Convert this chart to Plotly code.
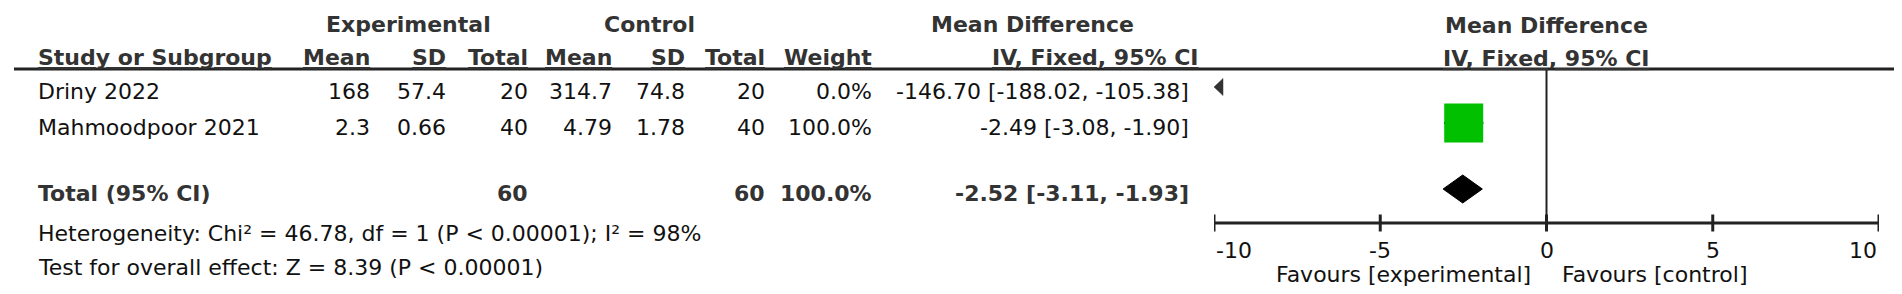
import plotly.graph_objects as go

W, H = 1902, 294

# ---------------- data ----------------
studies = ["Driny 2022", "Mahmoodpoor 2021"]
exp_mean = [168, 2.3]
exp_sd = [57.4, 0.66]
exp_n = [20, 40]
ctl_mean = [314.7, 4.79]
ctl_sd = [74.8, 1.78]
ctl_n = [20, 40]
weights = [0.0, 100.0]
md = [-146.70, -2.49]
ci_lo = [-188.02, -3.08]
ci_hi = [-105.38, -1.90]

total_label = "Total (95% CI)"
total_exp_n = 60
total_ctl_n = 60
total_weight = 100.0
total_md, total_lo, total_hi = -2.52, -3.11, -1.93

heterogeneity = "Heterogeneity: Chi² = 46.78, df = 1 (P < 0.00001); I² = 98%"
overall = "Test for overall effect: Z = 8.39 (P < 0.00001)"

x_ticks = [-10, -5, 0, 5, 10]
x_range = [-10, 10]
fav_left = "Favours [experimental]"
fav_right = "Favours [control]"

# ---------------- layout constants (pixels) ----------------
FONT = "DejaVu Sans"
FS = 22
TXT = "#111111"
HDR = "#333333"
GREEN = "#00c000"

ax_left_px, ax_right_px = 1206, 1871
row_y = [79, 115]          # mark centres of study rows
total_y = 181
hdr1_y, hdr2_y = 13, 46
text_dy = 4
rule_y = 61
axis_y = 215
tick_half = 8.5
het_y, test_y = 221, 255
ticklab_y = 242
fav_y = 266
sq_max = 39
diamond_half = 14

cols = dict(exp_mean=364, exp_sd=440, exp_n=522, ctl_mean=606, ctl_sd=679,
            ctl_n=759, weight=866, ci=1183)
left_x = 28


def px(x):
    return x / W


def py(y):
    return 1 - y / H


fig = go.Figure()

annotations = []


def txt(text, x, y, anchor="right", bold=False, color=TXT, size=FS):
    annotations.append(dict(
        text=f"<b>{text}</b>" if bold else text,
        x=px(x), y=py(y + text_dy), xref="paper", yref="paper",
        xanchor=anchor, yanchor="middle", showarrow=False,
        font=dict(family=FONT, size=size, color=HDR if bold else color)))


# headers
txt("Experimental", 400, hdr1_y, "center", bold=True)
txt("Control", 641, hdr1_y, "center", bold=True)
txt("Mean Difference", 1024, hdr1_y, "center", bold=True)
txt("<u>Study or Subgroup</u>", left_x, hdr2_y, "left", bold=True)
for key, lab in [("exp_mean", "Mean"), ("exp_sd", "SD"), ("exp_n", "Total"),
                 ("ctl_mean", "Mean"), ("ctl_sd", "SD"), ("ctl_n", "Total"),
                 ("weight", "Weight")]:
    txt(f"<u>{lab}</u>", cols[key], hdr2_y, "right", bold=True)
txt("<u>IV, Fixed, 95% CI</u>", 1193, hdr2_y, "right", bold=True)

# study rows
for i, s in enumerate(studies):
    y = row_y[i]
    txt(s, left_x, y, "left")
    txt(f"{exp_mean[i]:g}", cols["exp_mean"], y)
    txt(f"{exp_sd[i]:g}", cols["exp_sd"], y)
    txt(f"{exp_n[i]}", cols["exp_n"], y)
    txt(f"{ctl_mean[i]:g}", cols["ctl_mean"], y)
    txt(f"{ctl_sd[i]:g}", cols["ctl_sd"], y)
    txt(f"{ctl_n[i]}", cols["ctl_n"], y)
    txt(f"{weights[i]:.1f}%", cols["weight"], y)
    txt(f"{md[i]:.2f} [{ci_lo[i]:.2f}, {ci_hi[i]:.2f}]", cols["ci"], y)

# total row
txt(total_label, left_x, total_y, "left", bold=True)
txt(f"{total_exp_n}", cols["exp_n"], total_y, bold=True)
txt(f"{total_ctl_n}", cols["ctl_n"], total_y, bold=True)
txt(f"{total_weight:.1f}%", cols["weight"], total_y, bold=True)
txt(f"{total_md:.2f} [{total_lo:.2f}, {total_hi:.2f}]", cols["ci"], total_y, bold=True)
txt(heterogeneity, left_x, het_y, "left")
txt(overall, left_x, test_y, "left")

# ---------------- forest plot ----------------
xmin, xmax = x_range
unit_px = (ax_right_px - ax_left_px) / (xmax - xmin)
for i in range(len(studies)):
    y = row_y[i]
    lo = max(ci_lo[i], xmin)
    hi = min(ci_hi[i], xmax)
    if lo < hi:
        fig.add_trace(go.Scatter(x=[lo, hi], y=[y, y], mode="lines",
                                 line=dict(color="#000000", width=2),
                                 hoverinfo="skip", showlegend=False))
    if xmin <= md[i] <= xmax and weights[i] > 0:
        size = sq_max * (weights[i] / max(weights)) ** 0.5
        fig.add_trace(go.Scatter(x=[md[i]], y=[y], mode="markers",
                                 marker=dict(symbol="square", size=size, color=GREEN,
                                             line=dict(width=0)),
                                 hoverinfo="skip", showlegend=False))
    if ci_lo[i] < xmin:
        aw = 9 / unit_px
        fig.add_trace(go.Scatter(x=[xmin, xmin + aw, xmin + aw, xmin],
                                 y=[y, y - 8.5, y + 8.5, y], mode="lines",
                                 fill="toself", fillcolor="#333333",
                                 line=dict(color="#333333", width=0.5),
                                 hoverinfo="skip", showlegend=False))

# diamond
fig.add_trace(go.Scatter(
    x=[total_lo, total_md, total_hi, total_md, total_lo],
    y=[total_y, total_y - diamond_half, total_y, total_y + diamond_half, total_y],
    mode="lines", fill="toself", fillcolor="#000000",
    line=dict(color="#000000", width=1), hoverinfo="skip", showlegend=False))

shapes = []
# top rule across the whole table
shapes.append(dict(type="line", xref="paper", yref="y", x0=px(6), x1=px(1894),
                   y0=rule_y, y1=rule_y, line=dict(color="#222222", width=3)))
# zero line
shapes.append(dict(type="line", xref="x", yref="y", x0=0, x1=0,
                   y0=rule_y, y1=axis_y, line=dict(color="#222222", width=2)))
# axis line
shapes.append(dict(type="line", xref="x", yref="y", x0=xmin, x1=xmax,
                   y0=axis_y, y1=axis_y, line=dict(color="#222222", width=3)))
for t in x_ticks:
    shapes.append(dict(type="line", xref="x", yref="y", x0=t, x1=t,
                       y0=axis_y - tick_half, y1=axis_y + tick_half,
                       line=dict(color="#222222", width=3)))
    anchor = "left" if t == xmin else ("right" if t == xmax else "center")
    annotations.append(dict(text=f"{t:g}".replace("-", "-"), x=t, y=ticklab_y,
                            xref="x", yref="y", xanchor=anchor, yanchor="middle",
                            showarrow=False,
                            font=dict(family=FONT, size=FS, color=TXT)))

# right header
annotations.append(dict(text="<b>Mean Difference</b>", x=0, y=hdr1_y + text_dy, xref="x", yref="y",
                        xanchor="center", yanchor="middle", showarrow=False,
                        font=dict(family=FONT, size=FS, color=HDR)))
annotations.append(dict(text="<b><u>IV, Fixed, 95% CI</u></b>", x=0, y=hdr2_y + text_dy,
                        xref="x", yref="y", xanchor="center", yanchor="middle",
                        showarrow=False, font=dict(family=FONT, size=FS, color=HDR)))
# favours labels
annotations.append(dict(text=fav_left, x=0, y=fav_y, xref="x", yref="y", xanchor="right",
                        xshift=-14, yanchor="middle", showarrow=False,
                        font=dict(family=FONT, size=FS, color=TXT)))
annotations.append(dict(text=fav_right, x=0, y=fav_y, xref="x", yref="y", xanchor="left",
                        xshift=13, yanchor="middle", showarrow=False,
                        font=dict(family=FONT, size=FS, color=TXT)))

fig.update_layout(
    width=W, height=H, autosize=False,
    margin=dict(l=0, r=0, t=0, b=0, pad=0),
    paper_bgcolor="white", plot_bgcolor="white",
    xaxis=dict(domain=[ax_left_px / W, ax_right_px / W], range=x_range,
               visible=False, fixedrange=True),
    yaxis=dict(domain=[0, 1], range=[H, 0], visible=False, fixedrange=True),
    shapes=shapes, annotations=annotations, showlegend=False,
)

fig.write_html("out.html", config={"displayModeBar": False})
